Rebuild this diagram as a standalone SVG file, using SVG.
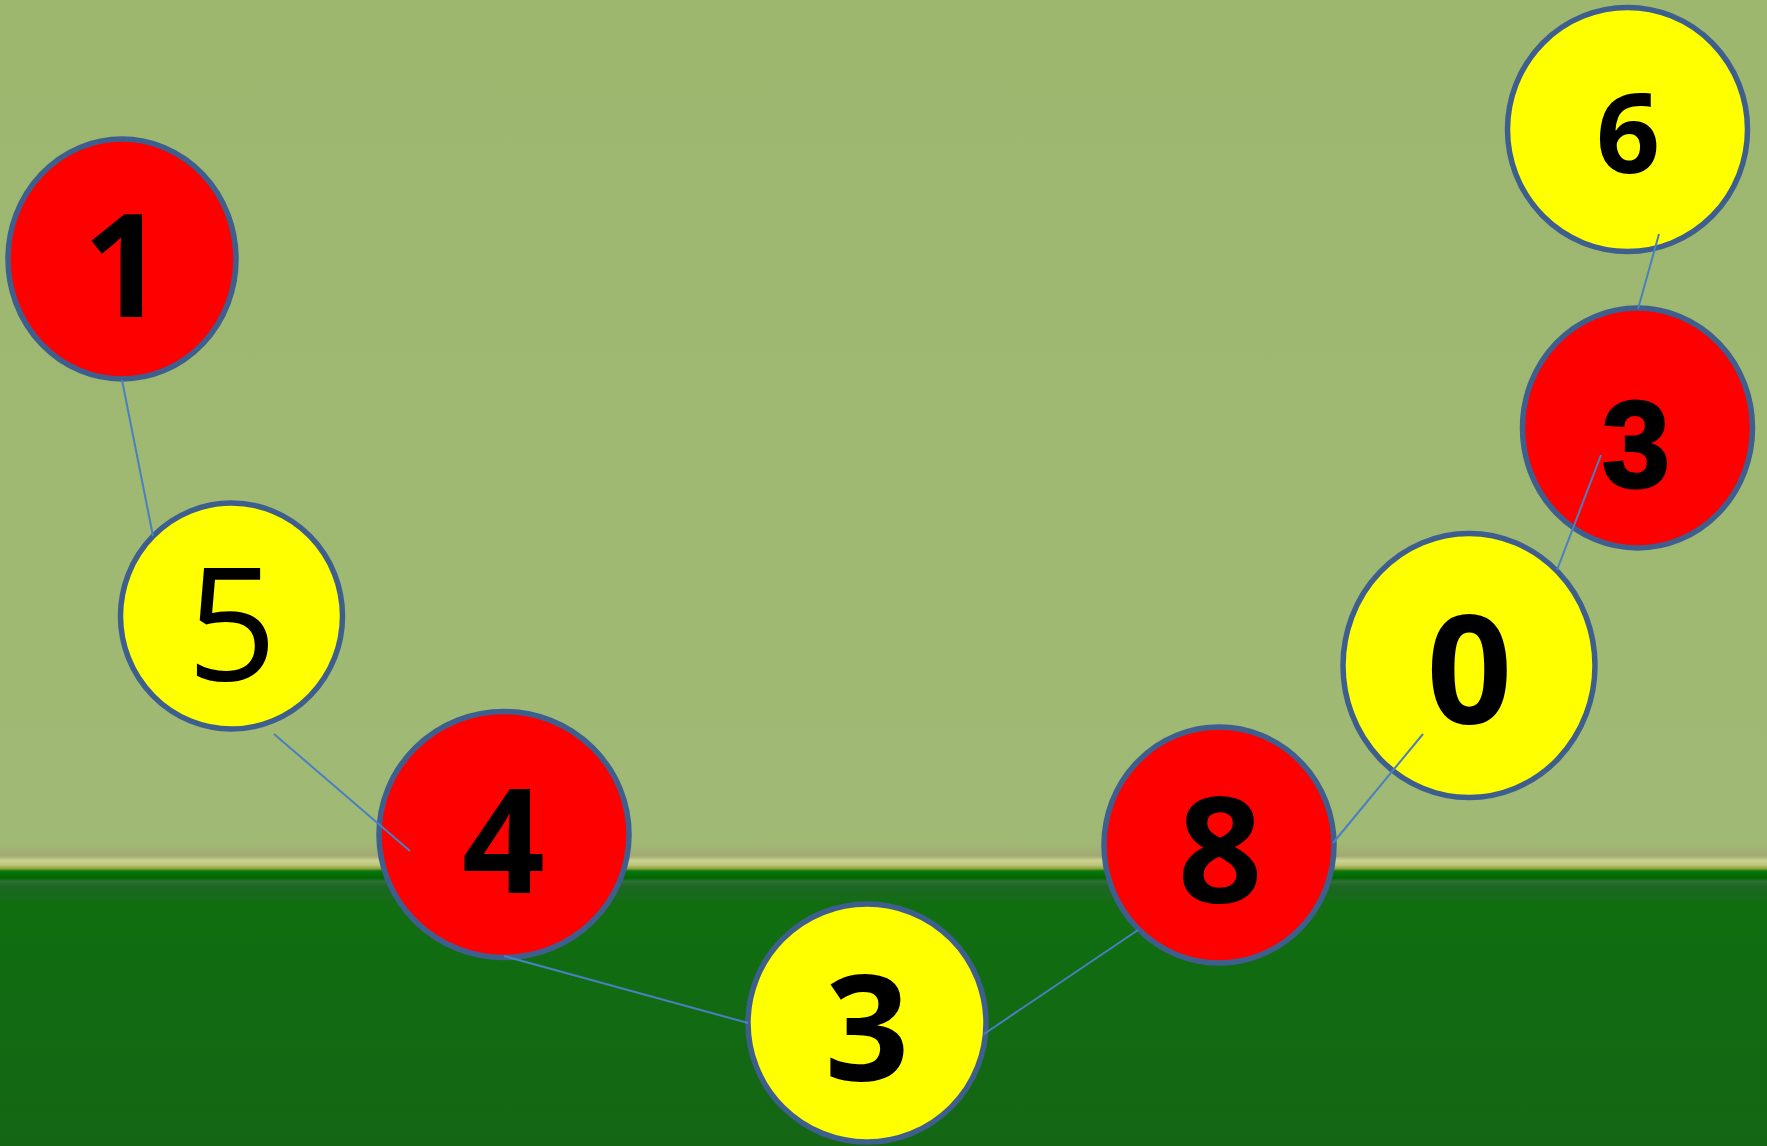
<svg xmlns="http://www.w3.org/2000/svg" width="1767" height="1146" viewBox="0 0 1767 1146">
<defs>
<linearGradient id="bg" gradientUnits="userSpaceOnUse" x1="0" y1="0" x2="0" y2="1146">
<stop offset="0" stop-color="#9db76f"/>
<stop offset="0.735" stop-color="#a0b974"/>
<stop offset="0.747" stop-color="#a3aa74"/>
<stop offset="0.751" stop-color="#cdd38e"/>
<stop offset="0.755" stop-color="#b9c47a"/>
<stop offset="0.758" stop-color="#8ea23c"/>
<stop offset="0.760" stop-color="#0a780a"/>
<stop offset="0.766" stop-color="#006600"/>
<stop offset="0.769" stop-color="#2c7032"/>
<stop offset="0.773" stop-color="#1e6624"/>
<stop offset="0.790" stop-color="#106e10"/>
<stop offset="1" stop-color="#146614"/>
</linearGradient>
<style>
.node{stroke:#3e5f8e;stroke-width:5.5}
.red{fill:#ff0000}
.yel{fill:#ffff00}
.lbl{font-family:"Open Sans","Noto Sans",sans-serif;font-weight:700;fill:#000;text-anchor:middle}
.reg{font-weight:400}
.heavy{font-family:"Liberation Sans","Open Sans",sans-serif;font-weight:700;stroke:#000;stroke-width:3}
.conn{stroke:#4a7fc1;stroke-width:2;fill:none}
</style>
</defs>
<rect x="0" y="0" width="1767" height="1146" fill="url(#bg)"/>
<g id="node-1"><ellipse class="node red" cx="122" cy="259" rx="114" ry="120"/><text class="lbl" x="124" y="317" font-size="143">1</text></g>
<g id="node-5"><ellipse class="node yel" cx="231.5" cy="616" rx="111" ry="113"/><text class="lbl reg" x="232" y="680" font-size="158">5</text></g>
<g id="node-4"><ellipse class="node red" cx="504" cy="834.5" rx="125" ry="123"/><text class="lbl" x="503.5" y="893" font-size="145">4</text></g>
<g id="node-3a"><ellipse class="node yel" cx="867" cy="1023" rx="119" ry="119"/><text class="lbl" x="867" y="1081" font-size="148">3</text></g>
<g id="node-8"><ellipse class="node red" cx="1219" cy="845" rx="115" ry="118"/><text class="lbl" x="1220" y="903" font-size="148">8</text></g>
<g id="node-0"><ellipse class="node yel" cx="1469" cy="665.5" rx="126" ry="132"/><text class="lbl" x="1469.5" y="724" font-size="150">0</text></g>
<g id="node-3b"><ellipse class="node red" cx="1637.5" cy="428" rx="115" ry="120"/><text class="lbl heavy" x="1636" y="487" font-size="122">3</text></g>
<g id="node-6"><ellipse class="node yel" cx="1627.5" cy="129.5" rx="120" ry="122"/><text class="lbl" x="1628" y="173" font-size="112">6</text></g>
<g id="connectors">
<line class="conn" x1="122" y1="380" x2="153" y2="536"/>
<line class="conn" x1="274" y1="734" x2="410" y2="851"/>
<line class="conn" x1="504" y1="956" x2="748" y2="1023"/>
<line class="conn" x1="984" y1="1034" x2="1138" y2="930"/>
<line class="conn" x1="1333" y1="843" x2="1423" y2="734"/>
<line class="conn" x1="1557" y1="570" x2="1601" y2="455"/>
<line class="conn" x1="1638" y1="309" x2="1659" y2="234"/>
</g>
</svg>
